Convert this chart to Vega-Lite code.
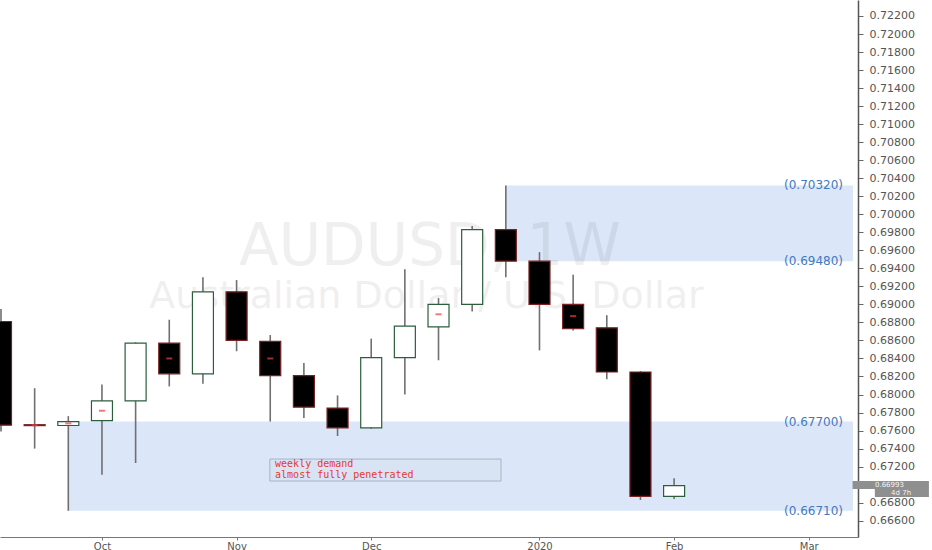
{
  "$schema": "https://vega.github.io/schema/vega-lite/v6.json",
  "width": 858,
  "height": 537,
  "autosize": {"type": "none"},
  "padding": {"left": 0, "top": 0, "right": 74, "bottom": 13},
  "background": "#ffffff",
  "config": {"view": {"stroke": null}, "axis": {"grid": false, "labelOverlap": false}},
  "datasets": {
    "candles": [
      {"date": "2019-09-16", "open": 0.6881, "high": 0.6895, "low": 0.6759, "close": 0.6766},
      {"date": "2019-09-23", "open": 0.67665, "high": 0.6807, "low": 0.6740, "close": 0.67655, "mid": 0.6766},
      {"date": "2019-09-30", "open": 0.67656, "high": 0.6776, "low": 0.6671, "close": 0.6770, "mid": 0.6768},
      {"date": "2019-10-07", "open": 0.6771, "high": 0.6811, "low": 0.6711, "close": 0.6793, "mid": 0.6782},
      {"date": "2019-10-14", "open": 0.6793, "high": 0.6858, "low": 0.6724, "close": 0.6857},
      {"date": "2019-10-21", "open": 0.6857, "high": 0.6883, "low": 0.6809, "close": 0.6823, "mid": 0.6840},
      {"date": "2019-10-28", "open": 0.6823, "high": 0.6930, "low": 0.6812, "close": 0.6914},
      {"date": "2019-11-04", "open": 0.6914, "high": 0.6927, "low": 0.6848, "close": 0.6860},
      {"date": "2019-11-11", "open": 0.6859, "high": 0.6866, "low": 0.6770, "close": 0.6821, "mid": 0.6840},
      {"date": "2019-11-18", "open": 0.6821, "high": 0.6835, "low": 0.6774, "close": 0.6786},
      {"date": "2019-11-25", "open": 0.6785, "high": 0.6799, "low": 0.6754, "close": 0.6763},
      {"date": "2019-12-02", "open": 0.6763, "high": 0.6862, "low": 0.6762, "close": 0.6841},
      {"date": "2019-12-09", "open": 0.6841, "high": 0.6939, "low": 0.6800, "close": 0.6876},
      {"date": "2019-12-16", "open": 0.6875, "high": 0.6907, "low": 0.6838, "close": 0.6900, "mid": 0.6889},
      {"date": "2019-12-23", "open": 0.6900, "high": 0.6987, "low": 0.6892, "close": 0.6983},
      {"date": "2019-12-30", "open": 0.6983, "high": 0.7032, "low": 0.6930, "close": 0.6948},
      {"date": "2020-01-06", "open": 0.6948, "high": 0.6958, "low": 0.6849, "close": 0.6900},
      {"date": "2020-01-13", "open": 0.6900, "high": 0.6933, "low": 0.6871, "close": 0.6873, "mid": 0.6887},
      {"date": "2020-01-20", "open": 0.6874, "high": 0.6888, "low": 0.6817, "close": 0.6825},
      {"date": "2020-01-27", "open": 0.6825, "high": 0.6826, "low": 0.6683, "close": 0.6687},
      {"date": "2020-02-03", "open": 0.6687, "high": 0.6707, "low": 0.6684, "close": 0.6699}
    ],
    "zones": [
      {"start": "2019-12-30", "end": "2020-03-11T05:00:00Z", "top": 0.7032, "bottom": 0.6948},
      {"start": "2019-09-30", "end": "2020-03-11T05:00:00Z", "top": 0.6770, "bottom": 0.6671}
    ],
    "levels": [
      {"end": "2020-03-11T05:00:00Z", "price": 0.7032, "label": "(0.70320)"},
      {"end": "2020-03-11T05:00:00Z", "price": 0.6948, "label": "(0.69480)"},
      {"end": "2020-03-11T05:00:00Z", "price": 0.6770, "label": "(0.67700)"},
      {"end": "2020-03-11T05:00:00Z", "price": 0.6671, "label": "(0.66710)"}
    ],
    "note": [
      {"x0": "2019-11-10T22:00:00Z", "x1": "2019-12-29T00:00:00Z", "top": 0.67284, "bottom": 0.67040}
    ],
    "noteText": [
      {"d": "2019-11-12T00:00:00Z", "p": 0.67224, "t": "weekly demand"},
      {"d": "2019-11-12T00:00:00Z", "p": 0.67102, "t": "almost fully penetrated"}
    ],
    "tags": [
      {"x0": "2020-03-11T03:00:00Z", "x1": "2020-03-27T00:00:00Z", "top": 0.67040, "bottom": 0.66951, "xm": "2020-03-18T19:00:00Z", "ym": 0.66997, "label": "0.66993"},
      {"x0": "2020-03-15T18:00:00Z", "x1": "2020-03-27T00:00:00Z", "top": 0.66951, "bottom": 0.66862, "xm": "2020-03-21T05:00:00Z", "ym": 0.66909, "label": "4d 7h"}
    ]
  },
  "layer": [
    {
      "data": {"name": "zones"},
      "mark": {"type": "rect", "color": "#dbe6f8"},
      "encoding": {
        "x": {
          "field": "start", "type": "temporal", "title": null,
          "scale": {"type": "utc", "nice": false, "domain": [{"year": 2019, "month": 9, "date": 16, "hours": 20, "utc": true}, {"year": 2020, "month": 3, "date": 11, "hours": 5, "utc": true}]},
          "axis": {
            "title": null,
            "values": [
              {"year": 2019, "month": 10, "date": 7, "utc": true},
              {"year": 2019, "month": 11, "date": 4, "utc": true},
              {"year": 2019, "month": 12, "date": 2, "utc": true},
              {"year": 2020, "month": 1, "date": 6, "utc": true},
              {"year": 2020, "month": 2, "date": 3, "utc": true},
              {"year": 2020, "month": 3, "date": 2, "utc": true}
            ],
            "labelExpr": "utcFormat(datum.value, '%m') == '01' ? utcFormat(datum.value, '%Y') : utcFormat(datum.value, '%b')",
            "domainColor": "#777777", "domainWidth": 1,
            "tickColor": "#777777", "tickSize": 3,
            "labelFont": "DejaVu Sans", "labelFontSize": 10, "labelColor": "#555555", "labelPadding": 1
          }
        },
        "x2": {"field": "end"},
        "y": {
          "field": "top", "type": "quantitative", "title": null,
          "scale": {"domain": [0.664191, 0.723775], "zero": false, "nice": false},
          "axis": {
            "orient": "right", "title": null,
            "tickCount": 30,
            "labelExpr": "abs(datum.value - 0.67) < 0.0001 ? '' : format(datum.value, '.5f')",
            "labelOverlap": false,
            "labelFont": "DejaVu Sans", "labelFontSize": 11, "labelColor": "#555555",
            "tickColor": "#666666", "tickSize": 5, "labelPadding": 6,
            "domainColor": "#555555", "domainWidth": 1.5
          }
        },
        "y2": {"field": "bottom"}
      }
    },
    {
      "data": {"values": [{"d": "2019-12-14T05:00:00Z", "p": 0.69626, "t": "AUDUSD, 1W"}]},
      "mark": {"type": "text", "font": "DejaVu Sans", "fontSize": 58, "color": "#000000", "opacity": 0.06, "align": "center", "baseline": "middle"},
      "encoding": {
        "x": {"field": "d", "type": "temporal", "title": null},
        "y": {"field": "p", "type": "quantitative", "title": null},
        "text": {"field": "t"}
      }
    },
    {
      "data": {"values": [{"d": "2019-12-13T12:00:00Z", "p": 0.69084, "t": "Australian Dollar / U.S. Dollar"}]},
      "mark": {"type": "text", "font": "DejaVu Sans", "fontSize": 38, "color": "#000000", "opacity": 0.06, "align": "center", "baseline": "middle"},
      "encoding": {
        "x": {"field": "d", "type": "temporal", "title": null},
        "y": {"field": "p", "type": "quantitative", "title": null},
        "text": {"field": "t"}
      }
    },
    {
      "data": {"name": "levels"},
      "mark": {"type": "text", "font": "DejaVu Sans", "fontSize": 12, "color": "#4179c2", "align": "right", "baseline": "middle", "dx": -10},
      "encoding": {
        "x": {"field": "end", "type": "temporal", "title": null},
        "y": {"field": "price", "type": "quantitative", "title": null},
        "text": {"field": "label"}
      }
    },
    {
      "data": {"name": "candles"},
      "mark": {"type": "rule", "color": "#707070", "strokeWidth": 1.6},
      "encoding": {
        "x": {"field": "date", "type": "temporal", "title": null},
        "y": {"field": "low", "type": "quantitative", "title": null},
        "y2": {"field": "high"}
      }
    },
    {
      "data": {"name": "candles"},
      "mark": {"type": "bar", "width": 21, "strokeWidth": 1.2},
      "encoding": {
        "x": {"field": "date", "type": "temporal", "title": null},
        "y": {"field": "open", "type": "quantitative", "title": null},
        "y2": {"field": "close"},
        "fill": {"condition": {"test": "datum.close > datum.open", "value": "#ffffff"}, "value": "#000000"},
        "stroke": {"condition": {"test": "datum.close > datum.open", "value": "#2d5e3c"}, "value": "#7a2020"}
      }
    },
    {
      "data": {"name": "candles"},
      "transform": [{"filter": "isValid(datum.mid)"}],
      "mark": {"type": "tick", "orient": "horizontal", "size": 6, "thickness": 2, "color": "#e8403f"},
      "encoding": {
        "x": {"field": "date", "type": "temporal", "title": null},
        "y": {"field": "mid", "type": "quantitative", "title": null}
      }
    },
    {
      "data": {"name": "note"},
      "mark": {"type": "rect", "fill": "#d8e3f3", "stroke": "#a9b4c2", "strokeWidth": 1},
      "encoding": {
        "x": {"field": "x0", "type": "temporal", "title": null},
        "x2": {"field": "x1"},
        "y": {"field": "top", "type": "quantitative", "title": null},
        "y2": {"field": "bottom"}
      }
    },
    {
      "data": {"name": "noteText"},
      "mark": {"type": "text", "font": "DejaVu Sans Mono", "fontSize": 10, "color": "#e53935", "align": "left", "baseline": "middle"},
      "encoding": {
        "x": {"field": "d", "type": "temporal", "title": null},
        "y": {"field": "p", "type": "quantitative", "title": null},
        "text": {"field": "t"}
      }
    },
    {
      "data": {"name": "tags"},
      "mark": {"type": "rect", "fill": "#8f8f8f"},
      "encoding": {
        "x": {"field": "x0", "type": "temporal", "title": null},
        "x2": {"field": "x1"},
        "y": {"field": "top", "type": "quantitative", "title": null},
        "y2": {"field": "bottom"}
      }
    },
    {
      "data": {"name": "tags"},
      "mark": {"type": "text", "font": "DejaVu Sans", "fontSize": 7, "color": "#f4f4f4", "align": "center", "baseline": "middle"},
      "encoding": {
        "x": {"field": "xm", "type": "temporal", "title": null},
        "y": {"field": "ym", "type": "quantitative", "title": null},
        "text": {"field": "label"}
      }
    }
  ]
}
